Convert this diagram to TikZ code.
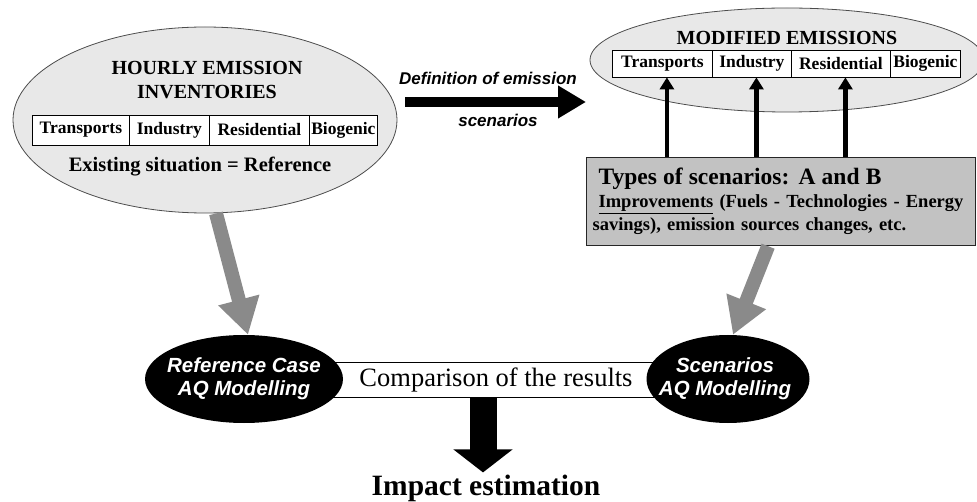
\documentclass[tikz,border=0pt]{standalone}
\usepackage{fontspec}
\usepackage{tikz}
\usetikzlibrary{shapes.geometric,arrows.meta}
\setmainfont{Liberation Serif}
\newfontfamily\arialfont{Liberation Sans}
\definecolor{bubblegray}{RGB}{232,232,232}
\definecolor{boxgray}{RGB}{194,194,194}
\definecolor{arrowgray}{RGB}{138,138,138}
\def\titlesize{\fontsize{20}{24}\selectfont\bfseries}
\def\cellsize{\fontsize{17.5}{19}\selectfont\bfseries}

\begin{document}
\begin{tikzpicture}[x=1pt,y=-1pt]
                \tikzstyle{bubble}=[ellipse,draw=black!70,fill=bubblegray,line width=0.8pt,inner sep=0pt]
                \tikzstyle{model}=[ellipse,fill=black,inner sep=0pt,minimum height=88pt]
                \tikzstyle{modeltext}=[text=white,inner sep=0pt,align=center,
                    font=\arialfont\fontsize{20.5}{23}\selectfont\bfseries\itshape]
                \tikzstyle{cell}=[draw=black,fill=white,line width=0.8pt,inner sep=0pt,font=\cellsize]
                \tikzstyle{title}=[align=center,inner sep=0pt,font=\titlesize]
                \tikzstyle{grayarrow}=[draw=arrowgray,line width=14pt,-{Triangle[length=36pt,width=40pt]}]
                \tikzstyle{uparrow}=[draw=black,line width=4.5pt,-{Triangle[length=12pt,width=14pt]}]
                \tikzstyle{deflabel}=[font=\arialfont\fontsize{17}{19}\selectfont\bfseries\itshape]
                \useasboundingbox (0,0) rectangle (977,502);

                % Draw the two emission bubbles
                \node[bubble,minimum width=384pt,minimum height=186pt] (hourly) at (205,120) {};
                \node[bubble,minimum width=394pt,minimum height=104pt] (modified) at (787,60) {};

                \node[title] (hourlyT) at (207,80) {HOURLY EMISSION\\INVENTORIES};
                \node[title] (modifiedT) at (787,38) {MODIFIED EMISSIONS};
                \node[title,font=\fontsize{20.5}{24}\selectfont\bfseries] (existing) at (200,167) {Existing situation = Reference};

                % Draw the sector cells of both tables
                \foreach \name / \x / \w / \txt in {1/32/97/Transports,2/129/80/Industry,3/209/100/Residential,4/309/68/Biogenic}
                    \node[cell,anchor=west,minimum width=\w pt,minimum height=30pt] (L-\name) at (\x,130) {\txt};
                \foreach \name / \x / \w / \txt in {1/612/100/Transports,2/712/79/Industry,3/791/99/Residential,4/890/70/Biogenic}
                    \node[cell,anchor=west,minimum width=\w pt,minimum height=27pt] (M-\name) at (\x,63.5) {\txt};

                % Definition arrow between the bubbles
                \coordinate (defS) at (405,102);
                \coordinate (defE) at (586,102);
                \draw[line width=10pt,-{Triangle[length=28pt,width=31pt]}] (defS) -- (defE);
                \node[deflabel] (defT) at (488,78) {Definition of emission};
                \node[deflabel] (defB) at (498,120) {scenarios};

                % Scenario box
                \node[draw=black!85,fill=boxgray,line width=1.2pt,anchor=north west,minimum width=389pt,minimum height=88pt,
                    text width=377pt,align=left,inner xsep=6pt,inner ysep=0pt,font=\fontsize{18.5}{23}\selectfont\bfseries] (types) at (586,157)
                    {\leftskip=6pt\hyphenpenalty=10000
                     {\fontsize{23.5}{25}\selectfont Types of scenarios: A and B}\\
                     \underline{Improvements} (Fuels - Technologies - Energy\\savings), emission sources changes, etc.};

                % Connect the scenario box to the modified sectors
                \foreach \name in {1,2,3}
                    \draw[uparrow] ([xshift=4.5pt]M-\name.south |- types.north) -- ([xshift=4.5pt]M-\name.south);

                % Comparison bar and the two model runs
                \node[draw=black,fill=white,line width=0.8pt,minimum width=330pt,minimum height=35pt,inner sep=0pt,
                    font=\fontsize{26.5}{28}\selectfont] (compare) at (496,379.5) {Comparison of the results};
                \node[model,minimum width=198pt,label={[modeltext]center:{Reference Case\\AQ Modelling}}] (refcase) at (244,379) {};
                \node[model,minimum width=163pt,label={[modeltext,xshift=-3pt]center:{Scenarios\\AQ Modelling}}] (scenmod) at (728,379) {};

                \draw[grayarrow] ([xshift=11pt]hourly.south) -- ([xshift=4pt]refcase.north);
                \draw[grayarrow] ([xshift=-13pt]types.south) -- ([xshift=5pt]scenmod.north);

                % Result
                \node[inner sep=0pt,font=\fontsize{29.5}{30}\selectfont\bfseries] (impact) at (486,488) {Impact estimation};
                \draw[line width=27pt,-{Triangle[length=23pt,width=58pt]}] ([xshift=-13pt]compare.south) -- ([xshift=-3pt,yshift=2pt]impact.north);
            \end{tikzpicture}
\end{document}
